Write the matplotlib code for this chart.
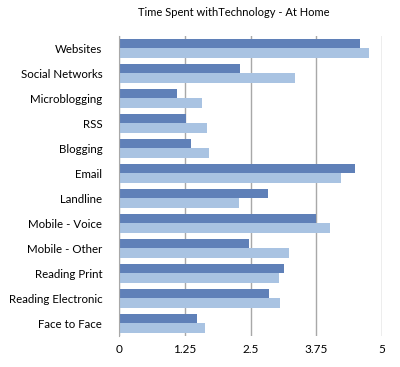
""" 
Time spent with technology at home, horizontal grouped bars.
"""

import numpy as np
from matplotlib import pyplot as plt

categories = ["Websites", "Social Networks", "Microblogging", "RSS", "Blogging",
              "Email", "Landline", "Mobile - Voice", "Mobile - Other",
              "Reading Print", "Reading Electronic", "Face to Face"]
series_dark = [4.58, 2.30, 1.11, 1.27, 1.36, 4.48, 2.83, 3.75, 2.48, 3.14, 2.86, 1.48]
series_light = [4.76, 3.35, 1.57, 1.67, 1.72, 4.22, 2.28, 4.02, 3.23, 3.04, 3.07, 1.64]
xticks = [0, 1.25, 2.5, 3.75, 5]
xtick_labels = ["0", "1.25", "2.5", "3.75", "5"]


def main():
    plt.rcParams["font.family"] = ["Lato", "DejaVu Sans"]
    fig = plt.figure(figsize=(4, 3.67), dpi=100)
    ax = fig.add_axes([0.2975, 0.0845, 0.6575, 0.8175])

    y = np.arange(len(categories))
    h = 0.39
    ax.barh(y - h / 2, series_dark, height=h, color="#5f80b8", zorder=2)
    ax.barh(y + h / 2, series_light, height=h, color="#a9c3e2", zorder=2)

    ax.set_ylim(len(categories) - 0.5, -0.5)
    ax.set_xlim(0, 5)
    ax.set_yticks(y)
    ax.set_yticklabels(categories, fontsize=8.3)
    ax.set_xticks(xticks)
    ax.set_xticklabels(xtick_labels, fontsize=8.5)
    ax.tick_params(axis="y", length=0, pad=12)
    ax.tick_params(axis="x", length=0, pad=6)
    ax.xaxis.grid(True, color="#a8a8a8", linewidth=1, zorder=0)

    for side in ["top", "right", "bottom"]:
        ax.spines[side].set_visible(False)
    ax.spines["left"].set_color("#a8a8a8")

    fig.text(0.585, 0.965, "Time Spent withTechnology - At Home",
             fontsize=8, ha="center", va="center")
    fig.savefig("out.png", dpi=100)


if __name__ == "__main__":
    main()
